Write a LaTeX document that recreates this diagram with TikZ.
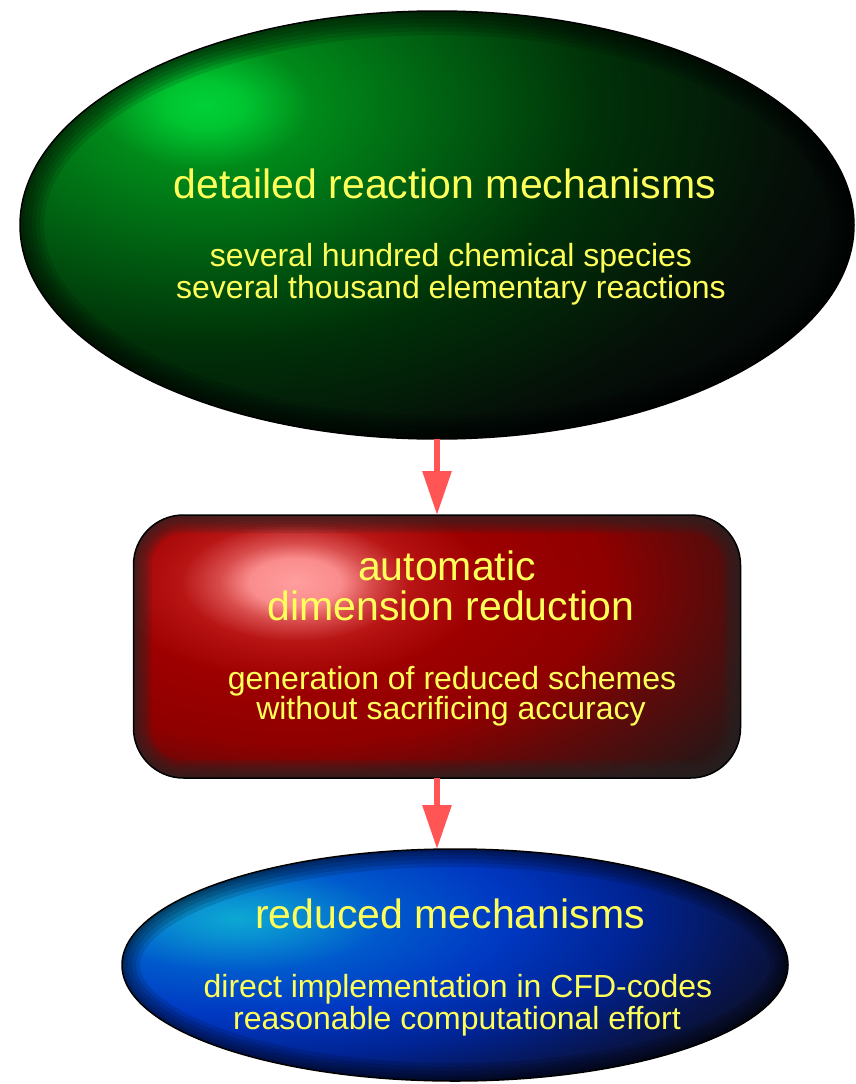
\documentclass[tikz,border=0pt]{standalone}
\usepackage{fontspec}
\setmainfont{Liberation Sans}
\usetikzlibrary{shapes.geometric,arrows.meta}

\definecolor{labelyellow}{RGB}{255,255,90}
\definecolor{arrowred}{RGB}{255,85,85}
\definecolor{rimgray}{RGB}{38,38,38}
\definecolor{greendark}{rgb}{0.02,0.04,0.03}
\definecolor{reddark}{rgb}{0.18,0.08,0.08}
\definecolor{bluedark}{rgb}{0.05,0.06,0.12}

% glows round the light spot (25bp = edge of the shaded path)
\pgfdeclareradialshading{greenglow}{\pgfpoint{0bp}{0bp}}{%
  rgb(0bp)=(0,0.82,0.22); rgb(1.5bp)=(0,0.77,0.19); rgb(4bp)=(0,0.54,0.1);
  rgb(9bp)=(0,0.38,0.07); rgb(15bp)=(0,0.19,0.03); rgb(22.5bp)=(0.02,0.06,0.03);
  rgb(25bp)=(0.02,0.04,0.03); rgb(50bp)=(0.02,0.04,0.03)}
\pgfdeclareradialshading{redglow}{\pgfpoint{0bp}{0bp}}{%
  rgb(0bp)=(1,0.62,0.62); rgb(2.2bp)=(0.98,0.55,0.55); rgb(3.6bp)=(0.85,0.3,0.3);
  rgb(5.5bp)=(0.72,0.08,0.08); rgb(9bp)=(0.62,0,0); rgb(15bp)=(0.56,0,0);
  rgb(20bp)=(0.36,0.04,0.04); rgb(25bp)=(0.19,0.08,0.08); rgb(50bp)=(0.18,0.08,0.08)}
\pgfdeclareradialshading{blueglow}{\pgfpoint{0bp}{0bp}}{%
  rgb(0bp)=(0.05,0.66,0.83); rgb(2.5bp)=(0.03,0.55,0.82); rgb(6bp)=(0,0.35,0.8);
  rgb(11bp)=(0,0.22,0.76); rgb(16bp)=(0,0.14,0.58); rgb(21bp)=(0.03,0.08,0.3);
  rgb(25bp)=(0.05,0.06,0.12); rgb(50bp)=(0.05,0.06,0.12)}

\begin{document}
\begin{tikzpicture}[x=1pt,y=-1pt,
    stage/.style={inner sep=0pt,outer sep=0pt},
    outline/.style={draw=black,line width=1.5pt},
    head/.style={text=labelyellow,font=\fontsize{41}{41}\selectfont,anchor=base},
    note/.style={text=labelyellow,font=\fontsize{32}{33}\selectfont,anchor=base},
    flow/.style={arrowred,line width=6pt,-{Triangle[width=28pt,length=44pt]}}]
  \useasboundingbox (0,0) rectangle (855,1084);

  % the three stages
  \node[stage,ellipse,minimum width=834pt,minimum height=428pt] (detailed) at (437,225) {};
  \node[stage,rectangle,minimum width=607pt,minimum height=263pt] (autored) at (437,646.5) {};
  \node[stage,ellipse,minimum width=666pt,minimum height=232pt] (reduced) at (455,965) {};

  % green ball
  \begin{scope}
    \clip (detailed.center) ellipse [x radius=417pt,y radius=214pt];
    \fill[greendark] (detailed.center) ellipse [x radius=417pt,y radius=214pt];
    \shade[shading=greenglow] (205,105) ellipse [x radius=660pt,y radius=400pt];
    \foreach \w in {48,40,32,24,16,8}
      \draw[black,opacity=0.12,line width=\w pt] (detailed.center) ellipse [x radius=417pt,y radius=214pt];
  \end{scope}
  \draw[outline] (detailed.center) ellipse [x radius=417pt,y radius=214pt];

  % red box
  \begin{scope}
    \clip[rounded corners=50pt] (autored.north west) rectangle (autored.south east);
    \fill[reddark] (autored.north west) rectangle (autored.south east);
    \shade[shading=redglow] (295,582) ellipse [x radius=520pt,y radius=270pt];
    \foreach \w in {36,30,24,18,12,6}
      \draw[rimgray,opacity=0.18,line width=\w pt,rounded corners=50pt] (autored.north west) rectangle (autored.south east);
  \end{scope}
  \draw[outline,rounded corners=50pt] (autored.north west) rectangle (autored.south east);

  % blue ball
  \begin{scope}
    \clip (reduced.center) ellipse [x radius=333pt,y radius=116pt];
    \fill[bluedark] (reduced.center) ellipse [x radius=333pt,y radius=116pt];
    \shade[shading=blueglow] (236,918) ellipse [x radius=620pt,y radius=220pt];
    \foreach \w in {36,28,20,12,6}
      \draw[black,opacity=0.13,line width=\w pt] (reduced.center) ellipse [x radius=333pt,y radius=116pt];
  \end{scope}
  \draw[outline] (reduced.center) ellipse [x radius=333pt,y radius=116pt];

  % arrows
  \draw[flow] (detailed.south) -- (autored.north);
  \draw[flow] (autored.south) -- (autored.south |- reduced.north);

  % labels
  \node[head] (detailedtitle) at (445,198) {detailed reaction mechanisms};
  \node[note] (detailedspecies) at (451,266) {several hundred chemical species};
  \node[note] (detailedreactions) at (451,298) {several thousand elementary reactions};

  \node[head] (autoredtitle) at (447,580) {automatic};
  \node[head] (autoredsubtitle) at (451,620) {dimension reduction};
  \node[note] (autoredschemes) at (452,689) {generation of reduced schemes};
  \node[note] (autoredaccuracy) at (451,719) {without sacrificing accuracy};

  \node[head] (reducedtitle) at (450,928) {reduced mechanisms};
  \node[note] (reducedcfd) at (458,997) {direct implementation in CFD-codes};
  \node[note] (reducedeffort) at (457,1029) {reasonable computational effort};
\end{tikzpicture}
\end{document}
